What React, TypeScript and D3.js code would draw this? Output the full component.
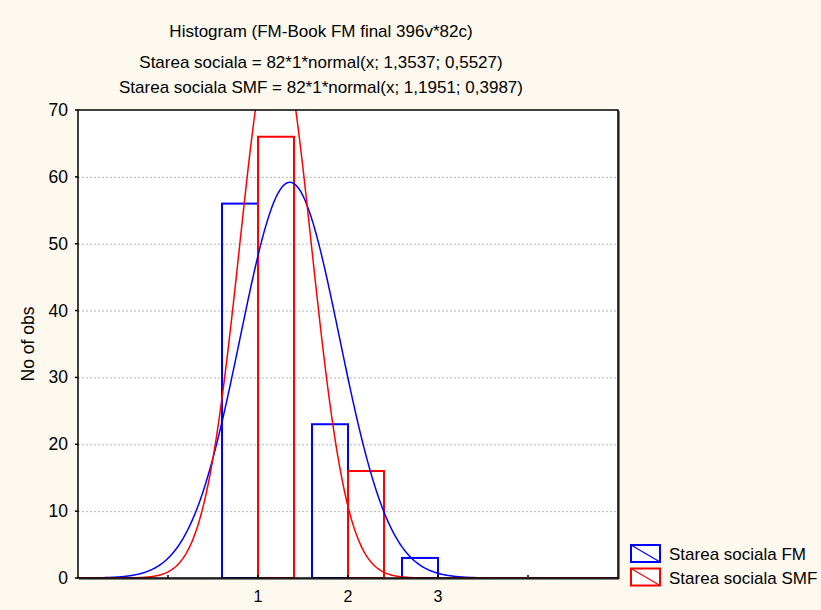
import React from "react";
import * as d3 from "d3";

const binCenters = [1, 2, 3];
const fmCounts = [56, 23, 3];
const smfCounts = [66, 16, 0];
const seriesNames = ["Starea sociala FM", "Starea sociala SMF"];
const seriesColors = ["#0000ff", "#ff0000"];
const fitN = [82, 82];
const fitMean = [1.3537, 1.1951];
const fitSd = [0.5527, 0.3987];
const yTicks = [0, 10, 20, 30, 40, 50, 60, 70];
const xLabelTicks = [1, 2, 3];
const xMinorTicks = [0, 4];
const titleLines = [
  "Histogram (FM-Book FM final 396v*82c)",
  "Starea sociala = 82*1*normal(x; 1,3537; 0,5527)",
  "Starea sociala SMF = 82*1*normal(x; 1,1951; 0,3987)",
];
const yLabel = "No of obs";

const W = 821;
const H = 610;
const left = 78;
const right = 618;
const top = 110;
const bottom = 578;
const font = "'Liberation Sans', Arial, sans-serif";

export default function App() {
  const x = d3.scaleLinear().domain([-1, 5]).range([left, right]);
  const y = d3.scaleLinear().domain([0, 70]).range([bottom, top]);
  const binW = 0.4;

  const normal = (v: number, m: number, s: number) =>
    Math.exp(-0.5 * ((v - m) / s) ** 2) / (s * Math.sqrt(2 * Math.PI));
  const xs = d3.range(-1, 5.0001, 0.01);
  const line = d3
    .line<number>()
    .x((d) => x(d))
    .curve(d3.curveLinear);

  const curves = [0, 1].map((i) =>
    line.y((d) => y(fitN[i] * 1 * normal(d, fitMean[i], fitSd[i])))(xs) as string
  );

  const series = [fmCounts, smfCounts];

  return (
    <div style={{ position: "absolute", left: 0, top: 0 }}>
      <svg width={W} height={H} style={{ display: "block" }}>
        <rect x={0} y={0} width={W} height={H} fill="#fdf9ef" />
        <defs>
          <clipPath id="plotclip">
            <rect x={left} y={top} width={right - left} height={bottom - top} />
          </clipPath>
        </defs>
        <rect x={left} y={top} width={right - left} height={bottom - top} fill="#ffffff" />
        {/* gridlines */}
        {yTicks
          .filter((t) => t > 0 && t < 70)
          .map((t) => (
            <line
              key={"g" + t}
              x1={left}
              x2={right}
              y1={y(t) + 0.5}
              y2={y(t) + 0.5}
              stroke="#b4b4b4"
              strokeWidth={1}
              strokeDasharray="2,2"
            />
          ))}
        {/* bars */}
        <g clipPath="url(#plotclip)">
          {series.map((vals, si) =>
            binCenters.map((c, bi) => {
              const x0 = si === 0 ? c - binW : c;
              const x1 = x0 + binW;
              if (vals[bi] <= 0) return null;
              return (
                <rect
                  key={`b${si}-${bi}`}
                  x={x(x0)}
                  y={y(vals[bi])}
                  width={x(x1) - x(x0)}
                  height={y(0) - y(vals[bi])}
                  fill="none"
                  stroke={seriesColors[si]}
                  strokeWidth={2}
                />
              );
            })
          )}
          {curves.map((d, i) => (
            <path key={"c" + i} d={d} fill="none" stroke={seriesColors[i]} strokeWidth={1.5} />
          ))}
        </g>
        {/* frame */}
        <line x1={right + 1} x2={right + 1} y1={top + 1} y2={bottom + 1} stroke="#555" strokeWidth={1.5} />
        <line x1={left + 1} x2={right + 1} y1={bottom + 1} y2={bottom + 1} stroke="#555" strokeWidth={1.5} />
        <rect x={left} y={top} width={right - left} height={bottom - top} fill="none" stroke="#000" strokeWidth={1.5} />
        {/* y ticks */}
        {yTicks.map((t) => (
          <g key={"yt" + t}>
            <line x1={left - 3} x2={left} y1={y(t)} y2={y(t)} stroke="#000" strokeWidth={1.5} />
            <text
              x={68}
              y={y(t)}
              textAnchor="end"
              dominantBaseline="central"
              fontFamily={font}
              fontSize={17.5}
              fill="#000"
            >
              {t}
            </text>
          </g>
        ))}
        {/* x ticks */}
        {[...xLabelTicks, ...xMinorTicks].map((t) => (
          <line key={"xt" + t} x1={x(t)} x2={x(t)} y1={bottom} y2={bottom - 3} stroke="#000" strokeWidth={1.5} />
        ))}
        {xLabelTicks.map((t) => (
          <text
            key={"xl" + t}
            x={x(t)}
            y={602}
            textAnchor="middle"
            fontFamily={font}
            fontSize={16}
            fill="#000"
          >
            {t}
          </text>
        ))}
        {/* y label */}
        <text
          transform={`translate(34, ${(top + bottom) / 2}) rotate(-90)`}
          textAnchor="middle"
          fontFamily={font}
          fontSize={17.5}
          fill="#000"
        >
          {yLabel}
        </text>
        {/* titles */}
        {titleLines.map((t, i) => (
          <text
            key={"t" + i}
            x={321}
            y={[37, 68, 93][i]}
            textAnchor="middle"
            fontFamily={font}
            fontSize={17}
            fill="#000"
          >
            {t}
          </text>
        ))}
        {/* legend */}
        {seriesNames.map((n, i) => {
          const ly = 545 + i * 23.5;
          return (
            <g key={"lg" + i}>
              <rect x={631} y={ly} width={29} height={17} fill="#fff" stroke={seriesColors[i]} strokeWidth={2} />
              <line x1={631} y1={ly} x2={660} y2={ly + 17} stroke={seriesColors[i]} strokeWidth={1.2} />
              <text x={669} y={ly + 15} fontFamily={font} fontSize={17} fill="#000">
                {n}
              </text>
            </g>
          );
        })}
      </svg>
    </div>
  );
}
